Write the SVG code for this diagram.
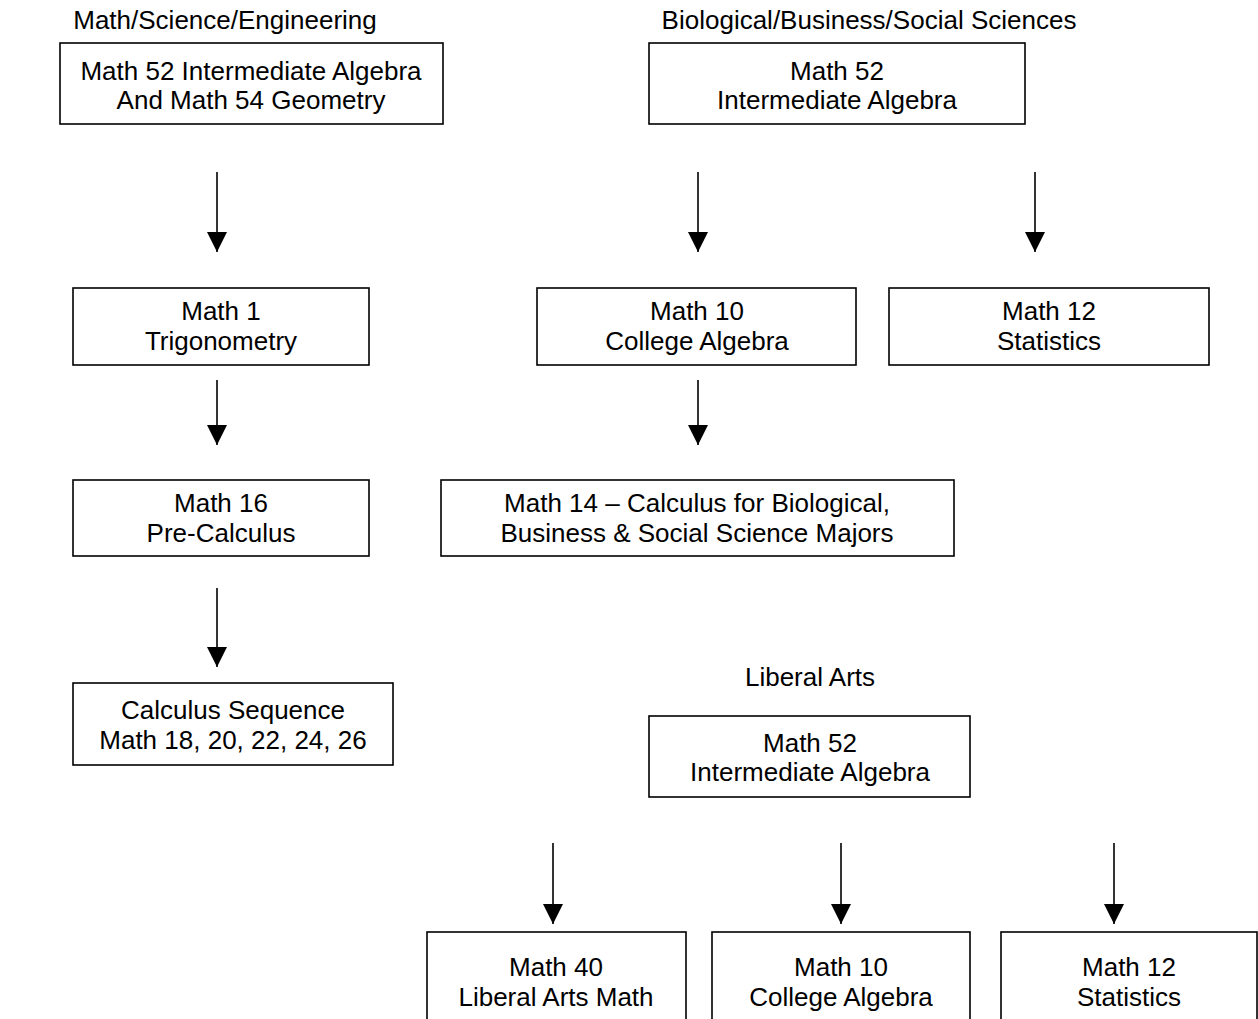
<svg xmlns="http://www.w3.org/2000/svg" width="1258" height="1019" viewBox="0 0 1258 1019">
<style>
text{font-family:"Liberation Sans",Arial,sans-serif;font-size:26px;fill:#000;text-anchor:middle}
.box{fill:#fff;stroke:#000;stroke-width:1.6}
.conn line{stroke:#000;stroke-width:1.6}
</style>
<defs>
<marker id="ah" viewBox="0 0 20 20" refX="20" refY="10" markerWidth="20" markerHeight="21" markerUnits="userSpaceOnUse" orient="auto">
<path d="M0,0 L20,10 L0,20 Z" fill="#000"/>
</marker>
</defs>
<rect width="1258" height="1019" fill="#fff"/>
<g id="titles">
<text x="225" y="29">Math/Science/Engineering</text>
<text x="869" y="29">Biological/Business/Social Sciences</text>
<text x="810" y="686">Liberal Arts</text>
</g>
<g id="n-mse52"><rect class="box" x="60" y="43" width="383" height="81"/><text x="251" y="80">Math 52 Intermediate Algebra</text><text x="251" y="109">And Math 54 Geometry</text></g>
<g id="n-bbs52"><rect class="box" x="649" y="43" width="376" height="81"/><text x="837" y="80">Math 52</text><text x="837" y="109">Intermediate Algebra</text></g>
<g id="n-math1"><rect class="box" x="73" y="288" width="296" height="77"/><text x="221" y="320">Math 1</text><text x="221" y="350">Trigonometry</text></g>
<g id="n-math10a"><rect class="box" x="537" y="288" width="319" height="77"/><text x="697" y="320">Math 10</text><text x="697" y="350">College Algebra</text></g>
<g id="n-math12a"><rect class="box" x="889" y="288" width="320" height="77"/><text x="1049" y="320">Math 12</text><text x="1049" y="350">Statistics</text></g>
<g id="n-math16"><rect class="box" x="73" y="480" width="296" height="76"/><text x="221" y="512">Math 16</text><text x="221" y="542">Pre-Calculus</text></g>
<g id="n-math14"><rect class="box" x="441" y="480" width="513" height="76"/><text x="697" y="512">Math 14 – Calculus for Biological,</text><text x="697" y="542">Business &amp; Social Science Majors</text></g>
<g id="n-calc"><rect class="box" x="73" y="683" width="320" height="82"/><text x="233" y="719">Calculus Sequence</text><text x="233" y="749">Math 18, 20, 22, 24, 26</text></g>
<g id="n-la52"><rect class="box" x="649" y="716" width="321" height="81"/><text x="810" y="752">Math 52</text><text x="810" y="781">Intermediate Algebra</text></g>
<g id="n-math40"><rect class="box" x="427" y="932" width="259" height="120"/><text x="556" y="976">Math 40</text><text x="556" y="1006">Liberal Arts Math</text></g>
<g id="n-math10b"><rect class="box" x="712" y="932" width="258" height="120"/><text x="841" y="976">Math 10</text><text x="841" y="1006">College Algebra</text></g>
<g id="n-math12b"><rect class="box" x="1001" y="932" width="256" height="120"/><text x="1129" y="976">Math 12</text><text x="1129" y="1006">Statistics</text></g>
<g class="conn" id="connectors">
<line x1="217" y1="172" x2="217" y2="252" marker-end="url(#ah)"/>
<line x1="698" y1="172" x2="698" y2="252" marker-end="url(#ah)"/>
<line x1="1035" y1="172" x2="1035" y2="252" marker-end="url(#ah)"/>
<line x1="217" y1="380" x2="217" y2="445" marker-end="url(#ah)"/>
<line x1="698" y1="380" x2="698" y2="445" marker-end="url(#ah)"/>
<line x1="217" y1="588" x2="217" y2="667" marker-end="url(#ah)"/>
<line x1="553" y1="843" x2="553" y2="924" marker-end="url(#ah)"/>
<line x1="841" y1="843" x2="841" y2="924" marker-end="url(#ah)"/>
<line x1="1114" y1="843" x2="1114" y2="924" marker-end="url(#ah)"/>
</g>
</svg>
